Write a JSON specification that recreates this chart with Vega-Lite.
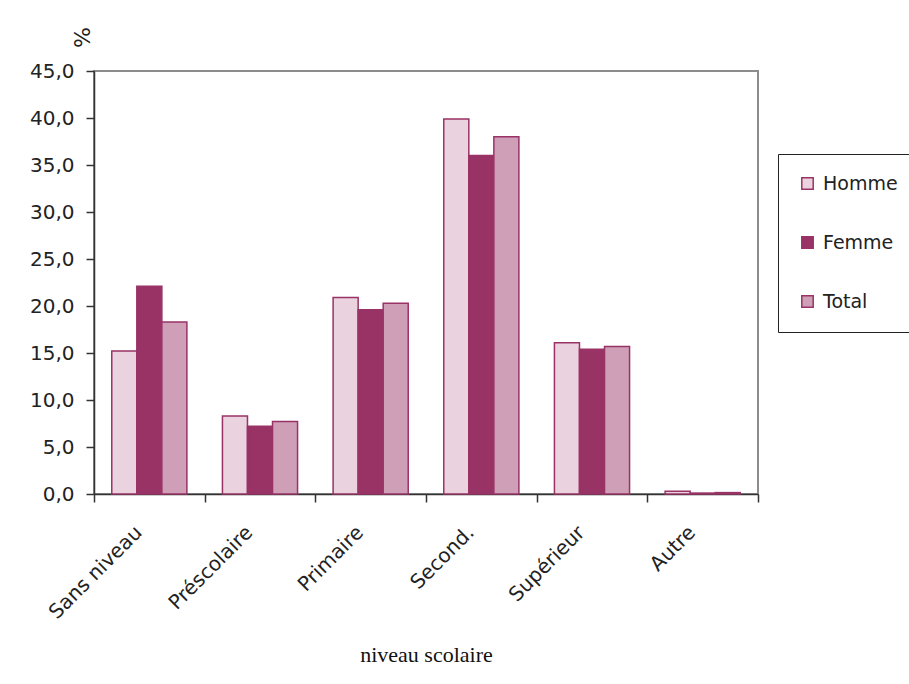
{
  "$schema": "https://vega.github.io/schema/vega-lite/v6.json",
  "width": 664,
  "height": 423,
  "autosize": {"type": "none"},
  "padding": {"left": 94, "top": 71, "right": 151, "bottom": 190},
  "background": "white",
  "config": {
    "view": {"stroke": "#8c8c8c", "strokeWidth": 2},
    "font": "DejaVu Sans"
  },
  "data": {
    "values": [
      {"niveau": "Sans niveau", "sexe": "Homme", "pct": 15.2},
      {"niveau": "Sans niveau", "sexe": "Femme", "pct": 22.1},
      {"niveau": "Sans niveau", "sexe": "Total", "pct": 18.3},
      {"niveau": "Préscolaire", "sexe": "Homme", "pct": 8.3},
      {"niveau": "Préscolaire", "sexe": "Femme", "pct": 7.2},
      {"niveau": "Préscolaire", "sexe": "Total", "pct": 7.7},
      {"niveau": "Primaire", "sexe": "Homme", "pct": 20.9},
      {"niveau": "Primaire", "sexe": "Femme", "pct": 19.6},
      {"niveau": "Primaire", "sexe": "Total", "pct": 20.3},
      {"niveau": "Second.", "sexe": "Homme", "pct": 39.9},
      {"niveau": "Second.", "sexe": "Femme", "pct": 36.0},
      {"niveau": "Second.", "sexe": "Total", "pct": 38.0},
      {"niveau": "Supérieur", "sexe": "Homme", "pct": 16.1},
      {"niveau": "Supérieur", "sexe": "Femme", "pct": 15.4},
      {"niveau": "Supérieur", "sexe": "Total", "pct": 15.7},
      {"niveau": "Autre", "sexe": "Homme", "pct": 0.3},
      {"niveau": "Autre", "sexe": "Femme", "pct": 0.1},
      {"niveau": "Autre", "sexe": "Total", "pct": 0.15}
    ]
  },
  "mark": {"type": "bar", "stroke": "#993366", "strokeWidth": 1.5},
  "encoding": {
    "x": {
      "field": "niveau",
      "type": "nominal",
      "sort": null,
      "scale": {"paddingInner": 0, "paddingOuter": 0},
      "axis": {
        "title": "niveau scolaire",
        "titleFont": "Liberation Serif",
        "titleFontSize": 22,
        "titleFontWeight": "normal",
        "titleColor": "#111",
        "titlePadding": 22,
        "labelAngle": -45,
        "labelFontSize": 20,
        "labelColor": "#222",
        "labelPadding": 20,
        "labelOffset": -18,
        "tickBand": "extent",
        "tickSize": 8,
        "tickColor": "#333",
        "tickWidth": 1.5,
        "domainColor": "#333",
        "domainWidth": 1.5
      }
    },
    "xOffset": {
      "field": "sexe",
      "type": "nominal",
      "sort": ["Homme", "Femme", "Total"],
      "scale": {"paddingInner": 0, "paddingOuter": 0.71}
    },
    "y": {
      "field": "pct",
      "type": "quantitative",
      "scale": {"domain": [0, 45], "nice": false},
      "axis": {
        "values": [0, 5, 10, 15, 20, 25, 30, 35, 40, 45],
        "labelExpr": "replace(format(datum.value, '.1f'), '.', ',')",
        "labelFontSize": 20,
        "labelColor": "#222",
        "labelPadding": 12,
        "tickSize": 8,
        "tickColor": "#333",
        "tickWidth": 1.5,
        "domainColor": "#333",
        "domainWidth": 1.5,
        "grid": false,
        "title": "%",
        "titleFontSize": 22,
        "titleFontWeight": "normal",
        "titleColor": "#222",
        "titleX": -12,
        "titleY": -34,
        "titleAngle": -90,
        "titleAlign": "center",
        "titleBaseline": "middle"
      }
    },
    "color": {
      "field": "sexe",
      "type": "nominal",
      "sort": ["Homme", "Femme", "Total"],
      "scale": {
        "domain": ["Homme", "Femme", "Total"],
        "range": ["#ead2de", "#993366", "#cf9fb7"]
      },
      "legend": {
        "title": null,
        "orient": "none",
        "legendX": 684,
        "legendY": 83,
        "symbolType": "square",
        "symbolSize": 130,
        "symbolStrokeColor": "#993366",
        "symbolStrokeWidth": 1.5,
        "symbolOpacity": 1,
        "labelFontSize": 19,
        "labelColor": "#222",
        "labelOffset": 6,
        "rowPadding": 39,
        "padding": 20,
        "strokeColor": "#222",
        "fillColor": "white"
      }
    }
  }
}
